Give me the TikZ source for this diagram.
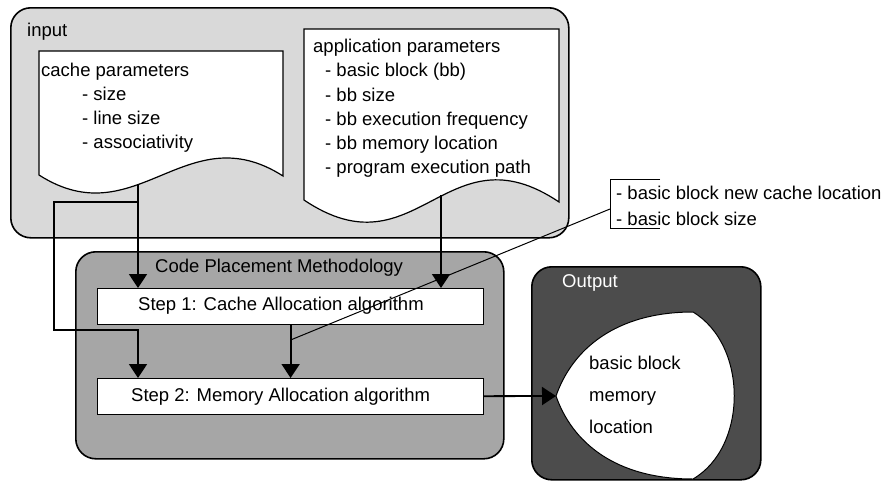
\documentclass[tikz,border=0pt]{standalone}
\usepackage{fontspec}
\setmainfont{Liberation Sans}
\usetikzlibrary{arrows.meta}
\definecolor{inputGray}{gray}{0.85}
\definecolor{cpmGray}{gray}{0.65}
\definecolor{outputGray}{gray}{0.3}

\begin{document}
\begin{tikzpicture}
[x=1pt,y=-1pt,
  boxDecorate/.style={draw,line width=1.6pt,rounded corners=20pt,anchor=north west,inner sep=0pt},%
  docDecorate/.style={draw,fill=white,line width=1.2pt},%
  stepDecorate/.style={draw,fill=white,line width=1.2pt,anchor=north west,inner sep=0pt,minimum width=386pt,minimum height=36pt},%
  textDecorate/.style={font=\fontsize{18.5}{22}\selectfont,inner sep=0pt,anchor=base west},%
  arrowDecorate/.style={-{Triangle[width=18pt,length=14pt]},line width=1.8pt},%
  lineDecorate/.style={-,line width=1pt}]
\useasboundingbox (0,0) rectangle (883,482);
%% container boxes
\node[boxDecorate,fill=inputGray,minimum width=558pt,minimum height=230pt] (input) at (10,7) {};
\node[boxDecorate,fill=cpmGray,minimum width=428pt,minimum height=207pt] (cpm) at (75,251) {};
\node[boxDecorate,fill=outputGray,minimum width=229pt,minimum height=213pt] (output) at (531,266) {};
\node[textDecorate] (inputlabel) at (27,36) {input};
\node[textDecorate] (cpmlabel) at (155,272) {Code Placement Methodology};
\node[textDecorate,text=white] (outputlabel) at (562,287) {Output};
%% documents
\draw[docDecorate] (39,51) -- (283,51) -- (283,176) .. controls (186,114) and (136,237) .. (39,175) -- cycle;
\draw[docDecorate] (304,29) -- (559,29) -- (559,202) .. controls (446,126) and (417,276) .. (304,200) -- cycle;
\node[textDecorate] (cachetitle) at (41,76) {cache parameters};
\foreach \nodename/\y/\txt in {csize/100/size, cline/124/line size, cassoc/148/associativity}
{
  \node[textDecorate] (\nodename) at (82,\y) {- \txt};
}
\node[textDecorate] (apptitle) at (313,52) {application parameters};
\foreach \nodename/\y/\txt in {abb/76/basic block (bb), asize/101/bb size, afreq/125/bb execution frequency, amem/149/bb memory location, apath/173/program execution path}
{
  \node[textDecorate] (\nodename) at (325,\y) {- \txt};
}
%% steps
\node[stepDecorate] (step1) at (97,288) {};
\node[stepDecorate] (step2) at (97,378) {};
\node[textDecorate] (step1text) at (138,310) {Step 1: Cache Allocation algorithm};
\node[textDecorate] (step2text) at (131,401) {Step 2: Memory Allocation algorithm};
%% output shape
\coordinate (lenstip) at (556,396);
\draw[fill=white,line width=1pt] (lenstip) .. controls (572,350) and (615,312) .. (693,312)
  .. controls (748,345) and (748,447) .. (693,479)
  .. controls (615,479) and (572,442) .. (lenstip) -- cycle;
\foreach \nodename/\y/\txt in {lbasic/369/basic block, lmem/401/memory, lloc/433/location}
{
  \node[textDecorate] (\nodename) at (589,\y) {\txt};
}
%% bracket note
\node[textDecorate] (newloc) at (616,199) {- basic block new cache location};
\node[textDecorate] (newsize) at (616,225) {- basic block size};
\draw[lineDecorate] (660,179) -| (610,228) -- (660,228);
\coordinate (bracket) at (610,209);
%% connectors
\coordinate (cacheout) at (138,184);
\coordinate (split) at (138,202);
\coordinate (bend) at (54,330);
\coordinate (appout) at (441,195);
\draw[arrowDecorate] (cacheout) -- (cacheout |- step1.north);
\draw[arrowDecorate] (split) -| (bend) -| (split |- step2.north);
\draw[arrowDecorate] (appout) -- (appout |- step1.north);
\draw[arrowDecorate] (step1) -- coordinate[pos=0.28] (joint) (step2);
\draw[arrowDecorate] (step2) -- (lenstip);
\draw[lineDecorate] (joint) -- (bracket);
\end{tikzpicture}
\end{document}
